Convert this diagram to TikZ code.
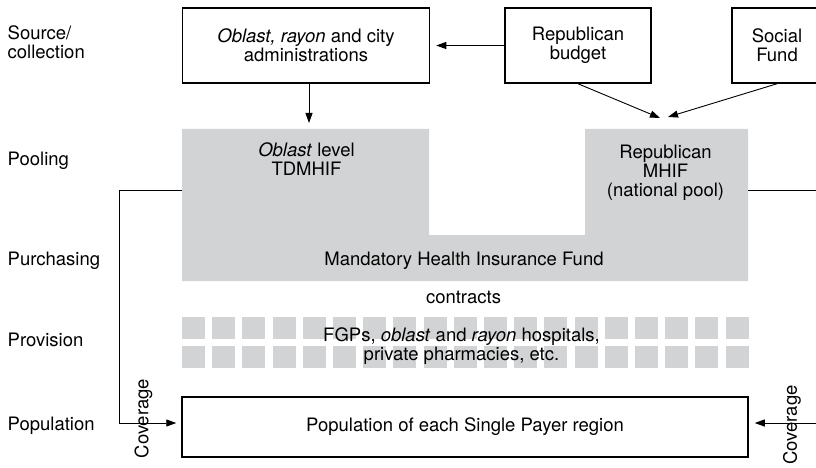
\documentclass[tikz,border=0pt]{standalone}
\usepackage{fontspec}
\setmainfont{TeX Gyre Heros}
\usetikzlibrary{arrows.meta}
\definecolor{poolgray}{RGB}{209,211,212}

\begin{document}
\begin{tikzpicture}[x=1pt,y=-1pt,
	font=\fontsize{18.5}{19}\selectfont,
	srcbox/.style={shape=rectangle,draw=black,line width=1.5pt,align=center,inner sep=0pt},
	rowlabel/.style={anchor=base west,inner sep=0pt},
	flow/.style={-{Triangle[length=10pt,width=7pt]},line width=0.9pt}]

	\useasboundingbox (0,0) rectangle (816,468);
	\clip (0,0) rectangle (816,468);

	\fill[poolgray] (182,129) -- (429,129) -- (429,235) -- (585,235) -- (585,129) -- (748,129) -- (748,281) -- (182,281) -- cycle;
	\foreach \col in {0,...,18}
		\foreach \row in {0,1}
			\fill[poolgray] (182+30.2*\col,317+29*\row) rectangle ++(23,22);

	\node[anchor=west,inner sep=0pt,align=left] (lsource) at (7.5,42.6) {Source/\\collection};
	\node[rowlabel] (lpooling) at (7.5,165) {Pooling};
	\node[rowlabel] (lpurchasing) at (7.5,265) {Purchasing};
	\node[rowlabel] (lprovision) at (7.5,346) {Provision};
	\node[rowlabel] (lpopulation) at (7.5,430) {Population};

	\node[srcbox,minimum width=247pt,minimum height=75pt] (admin) at (306,45.5) {\textit{Oblast, rayon} and city\\administrations};
	\node[srcbox,minimum width=146pt,minimum height=75pt] (budget) at (578,45.5) {Republican\\budget};
	\node[srcbox,minimum width=90pt,minimum height=75pt] (social) at (777,45.5) {Social\\Fund};

	\node[align=center,inner sep=0pt] (tdmhif) at (306.5,158.9) {\textit{Oblast} level\\TDMHIF};
	\node[align=center,inner sep=0pt] (repmhif) at (665.5,172.3) {Republican\\MHIF\\(national pool)};
	\node[anchor=base,inner sep=0pt] (mhif) at (464,265) {Mandatory Health Insurance Fund};
	\node[anchor=base,inner sep=0pt] (contracts) at (463.5,303) {contracts};
	\node[align=center,inner sep=0pt] (providers) at (461.5,346.4) {FGPs, \textit{oblast} and \textit{rayon} hospitals,\\private pharmacies, etc.};
	\node[srcbox,minimum width=566pt,minimum height=60pt] (pop) at (465,427) {Population of each Single Payer region};

	\node[rotate=90,inner sep=0pt] (covleft) at (143.5,418.5) {Coverage};
	\node[rotate=90,inner sep=0pt] (covright) at (792,425) {Coverage};

	\coordinate (tdmtop) at (309,123);
	\coordinate (reptopa) at (660,118);
	\coordinate (reptopb) at (668,117);
	\coordinate (poolwest) at (182,190);
	\coordinate (pooleast) at (748,190);

	\path[flow] (admin.south -| tdmtop) edge (tdmtop);
	\path[flow] (budget.west) edge[shorten >=6pt] (admin.east);
	\path[flow] (budget.south) edge (reptopa);
	\path[flow] (social.south) edge (reptopb);
	\draw[flow,shorten >=5pt] (poolwest) -| (119,423) -- ([yshift=4pt]pop.west);
	\draw[flow,shorten >=6pt] (pooleast) -- (840,190) |- ([yshift=4pt]pop.east);
\end{tikzpicture}
\end{document}
